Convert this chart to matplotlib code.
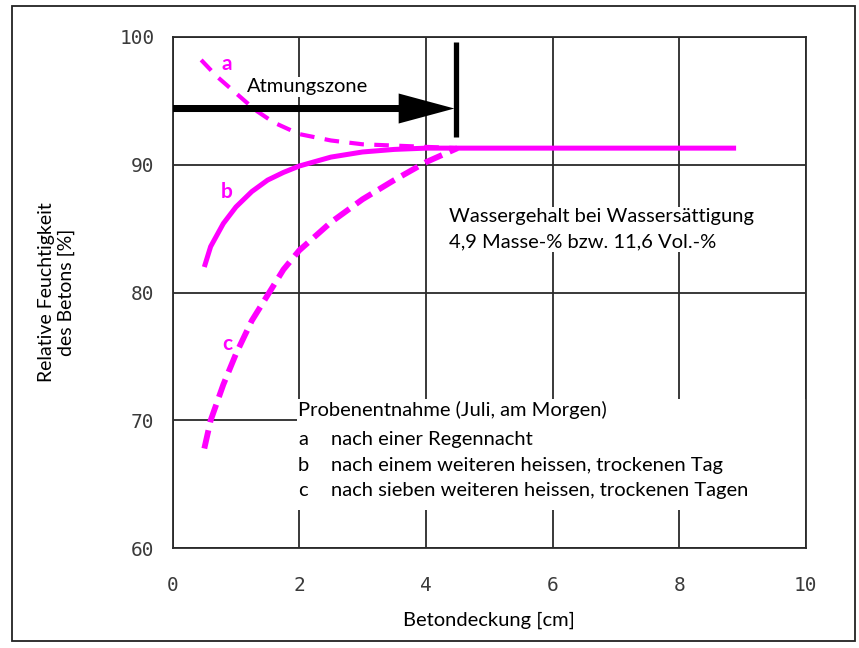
import matplotlib
matplotlib.use('Agg')
import matplotlib.pyplot as plt
from matplotlib.patches import Rectangle

# Daten
x_a = [0.45, 0.7, 1.0, 1.3, 1.6, 2.0, 2.5, 3.0, 3.5, 4.0, 4.5]
y_a = [98.2, 96.9, 95.6, 94.3, 93.3, 92.4, 91.9, 91.6, 91.5, 91.4, 91.3]

x_b = [0.5, 0.6, 0.8, 1.0, 1.25, 1.5, 1.75, 2.0, 2.5, 3.0, 3.5, 4.0, 4.5, 6.0, 8.0, 8.9]
y_b = [82.0, 83.6, 85.4, 86.7, 87.9, 88.8, 89.4, 89.9, 90.6, 91.0, 91.2, 91.3, 91.3, 91.3, 91.3, 91.3]

x_c = [0.5, 0.6, 0.8, 1.0, 1.25, 1.5, 1.75, 2.0, 2.5, 3.0, 3.5, 4.0, 4.5]
y_c = [67.8, 70.0, 72.8, 75.2, 77.8, 79.8, 81.8, 83.3, 85.5, 87.3, 88.8, 90.2, 91.3]

x_ticks = [0, 2, 4, 6, 8, 10]
y_ticks = [60, 70, 80, 90, 100]

legend_keys = ['a', 'b', 'c']
legend_texts = ['nach einer Regennacht',
                'nach einem weiteren heissen, trockenen Tag',
                'nach sieben weiteren heissen, trockenen Tagen']

zone_end = 4.48
zone_y = 94.4

magenta = '#ff00ff'
grid_col = '#2a2a2a'
txt_font = ['Lato', 'DejaVu Sans']
fs = 14.5

fig = plt.figure(figsize=(8.59, 6.48), dpi=100)
ax = fig.add_axes([0.201, 0.154, 0.737, 0.789])

ax.set_xlim(0, 10)
ax.set_ylim(60, 100)
ax.set_xticks(x_ticks)
ax.set_yticks(y_ticks)
ax.set_xticklabels([str(v) for v in x_ticks], family='DejaVu Sans Mono', fontsize=14, color='#3a3a3a')
ax.set_yticklabels([str(v) for v in y_ticks], family='DejaVu Sans Mono', fontsize=14, color='#3a3a3a')
ax.tick_params(axis='y', length=0, pad=13)
ax.tick_params(axis='x', length=0, pad=20)
ax.grid(True, color=grid_col, lw=1.3)
ax.set_axisbelow(True)
for s in ax.spines.values():
    s.set_color(grid_col)
    s.set_linewidth(1.3)

# Kurven
ax.plot(x_a, y_a, color=magenta, lw=3, dashes=(3.5, 2.5), zorder=3)
ax.plot(x_b, y_b, color=magenta, lw=3.6, solid_capstyle='butt', zorder=3)
ax.plot(x_c, y_c, color=magenta, lw=4.2, dashes=(3.2, 1.4), zorder=3)

for k, (lx, ly) in zip(legend_keys, [(0.86, 97.9), (0.86, 87.9), (0.86, 76.0)]):
    ax.text(lx, ly, k, color=magenta, fontsize=15, fontweight='bold', family=txt_font,
            ha='center', va='center')

# Atmungszone Pfeil
ax.arrow(0, zone_y, zone_end - 0.03, 0, width=0.55, head_width=2.35, head_length=0.88,
         length_includes_head=True, color='black', lw=0, zorder=4)
ax.plot([zone_end, zone_end], [92.2, 99.6], color='black', lw=3.8, solid_capstyle='butt', zorder=4)
ax.text(1.17, 96.1, 'Atmungszone', fontsize=fs, family=txt_font, ha='left', va='center',
        bbox=dict(facecolor='white', edgecolor='none', pad=1), zorder=2)

# Texte
ax.text(4.36, 84.95, 'Wassergehalt bei Wassersättigung\n4,9 Masse-% bzw. 11,6 Vol.-%',
        fontsize=fs, family=txt_font, ha='left', va='center', linespacing=1.6,
        bbox=dict(facecolor='white', edgecolor='none', pad=1), zorder=2)

# weisser Hintergrund der Legende (unterbricht das Gitter)
ax.add_patch(Rectangle((1.97, 63.0), 10 - 1.97, 8.7, facecolor='white', edgecolor='none', zorder=1))
ax.text(1.98, 70.8, 'Probenentnahme (Juli, am Morgen)', fontsize=fs, family=txt_font,
        ha='left', va='center', zorder=2)
ax.text(1.98, 66.5, '\n'.join(legend_keys), fontsize=fs, family=txt_font, ha='left', va='center',
        linespacing=1.6, zorder=2)
ax.text(2.5, 66.5, '\n'.join(legend_texts), fontsize=fs, family=txt_font, ha='left', va='center',
        linespacing=1.6, zorder=2)

ax.set_xlabel('Betondeckung [cm]', fontsize=fs, family=txt_font, labelpad=12)
ax.set_ylabel('Relative Feuchtigkeit\ndes Betons [%]', fontsize=14, family=txt_font, labelpad=32)

# Rahmen um die Abbildung
fig.patches.append(Rectangle((12 / 859, 1 - 641 / 648), 843 / 859, 635 / 648, transform=fig.transFigure,
                             fill=False, edgecolor='#222222', lw=1.3))

fig.savefig('out.png', dpi=100)
